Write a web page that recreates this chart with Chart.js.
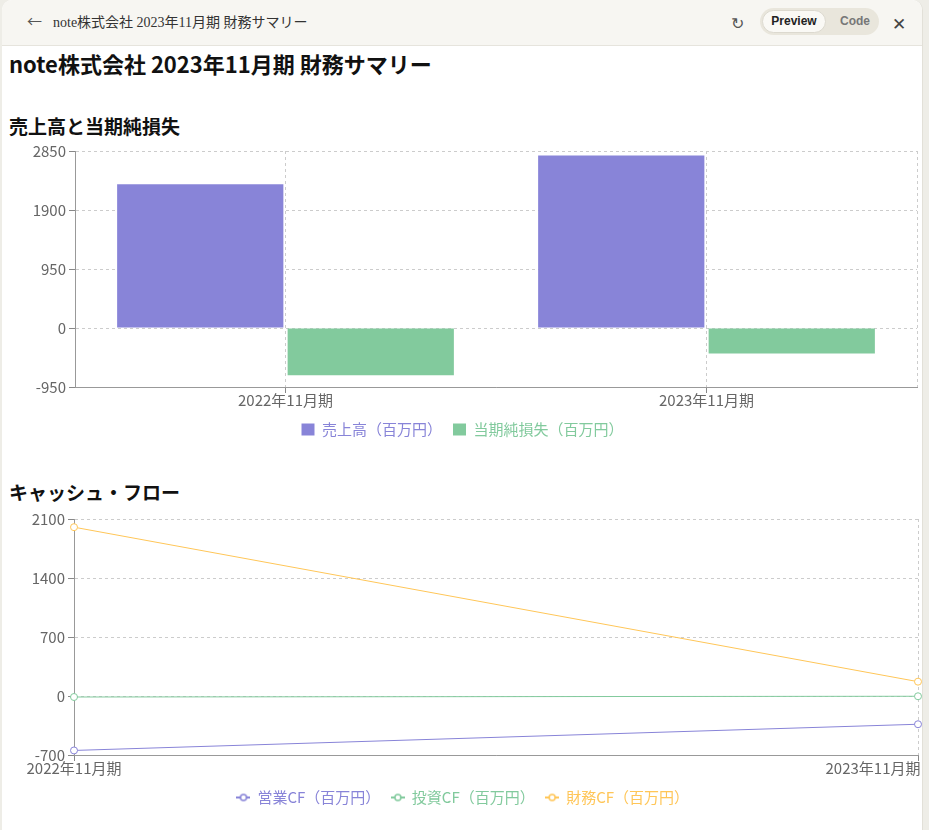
<!DOCTYPE html>
<html lang="ja">
<head>
<meta charset="utf-8">
<title>note株式会社 2023年11月期 財務サマリー</title>
<script src="https://cdn.jsdelivr.net/npm/chart.js@4.4.1/dist/chart.umd.min.js"></script>
<style>
  body { margin: 0; width: 929px; height: 830px; background: #eeede7; font-family: "Noto Sans CJK JP", sans-serif; overflow: hidden; position: relative; }
  .panel { position: absolute; left: 2px; top: 0; width: 920px; height: 830px; background: #fff; border-radius: 10px 10px 0 0; border-right: 1px solid #e2e0d8; }
  .topbar { position: absolute; left: 0; top: 0; width: 920px; height: 45px; background: #f7f6f2; border-bottom: 1px solid #e6e4dd; border-radius: 10px 10px 0 0; }
  .back { position: absolute; left: 25px; top: 10px; font-size: 15px; color: #555; }
  .tab-title { position: absolute; left: 51px; top: 11px; font-size: 14px; color: #333; font-family: "Liberation Serif", "Noto Sans CJK JP", serif; }
  .reload { position: absolute; left: 729px; top: 10px; font-size: 16px; color: #555; }
  .pill { position: absolute; left: 758px; top: 8px; width: 119px; height: 27px; background: #e9e6dc; border-radius: 14px; }
  .pill .on { position: absolute; left: 2px; top: 2px; width: 64px; height: 23px; background: #faf9f5; border-radius: 12px; border: 1px solid #dcd9cf; box-sizing: border-box; font: bold 12px "Liberation Sans", sans-serif; color: #222; text-align: center; line-height: 21px; }
  .pill .off { position: absolute; left: 80px; top: 2px; font: bold 12px "Liberation Sans", sans-serif; color: #777; line-height: 23px; }
  .close { position: absolute; left: 890px; top: 10px; font-size: 17px; color: #444; }
  h1 { position: absolute; left: 9px; top: 50px; margin: 0; font-size: 22px; line-height: 26px; font-weight: bold; color: #111; white-space: nowrap; }
  h2 { position: absolute; left: 9px; margin: 0; font-size: 19px; line-height: 22px; font-weight: bold; color: #111; white-space: nowrap; }
  .chart-box { position: absolute; left: 8px; width: 914px; height: 304px; }
</style>
</head>
<body>
<div class="panel">
  <div class="topbar">
    <span class="back">←</span>
    <span class="tab-title">note株式会社 2023年11月期 財務サマリー</span>
    <span class="reload">↻</span>
    <div class="pill"><div class="on">Preview</div><div class="off">Code</div></div>
    <span class="close">✕</span>
  </div>
</div>

<h1>note株式会社 2023年11月期 財務サマリー</h1>
<h2 style="top:115px">売上高と当期純損失</h2>
<div class="chart-box" style="top:143px"><canvas id="pl-chart"></canvas></div>
<h2 style="top:481px">キャッシュ・フロー</h2>
<div class="chart-box" style="top:511px"><canvas id="cf-chart"></canvas></div>

<script>
// data (百万円)
const periods = ["2022年11月期", "2023年11月期"];
const sales = [2314, 2776];
const netIncome = [-762, -412];
const operatingCF = [-646, -335];
const investingCF = [-12, -3];
const financingCF = [2003, 170];

const plTicks = [-950, 0, 950, 1900, 2850];
const cfTicks = [-700, 0, 700, 1400, 2100];

const PURPLE = "#8884d8";
const GREEN = "#82ca9d";
const ORANGE = "#ffc658";

Chart.defaults.font.family = "'Noto Sans CJK JP', sans-serif";
Chart.defaults.animation = false;

// legend icon like recharts "line" type: short line with a hollow circle
const lineIcon = function (color) {
  const c = document.createElement("canvas");
  c.width = 14;
  c.height = 10;
  const g = c.getContext("2d");
  g.strokeStyle = color;
  g.lineWidth = 2;
  g.beginPath();
  g.moveTo(0, 5);
  g.lineTo(14, 5);
  g.stroke();
  g.fillStyle = "#fff";
  g.lineWidth = 1.5;
  g.beginPath();
  g.arc(7, 5, 3, 0, Math.PI * 2);
  g.fill();
  g.stroke();
  return c;
};

// dashed line on the right edge of the plot (recharts grid look)
const rightEdge = {
  id: "rightEdge",
  beforeDatasetsDraw: function (chart) {
    const a = chart.chartArea;
    const ctx = chart.ctx;
    ctx.save();
    ctx.strokeStyle = "#ccc";
    ctx.setLineDash([3, 3]);
    ctx.lineWidth = 1;
    ctx.beginPath();
    ctx.moveTo(a.right + 0.5, a.top);
    ctx.lineTo(a.right + 0.5, a.bottom);
    ctx.stroke();
    ctx.restore();
  },
};

const axisStyle = function (ticks, yWidth) {
  return {
    x: {
      grid: { color: "#ccc", offset: false, tickLength: 6, tickColor: "#888", tickBorderDash: [] },
      border: { color: "#999", width: 1, dash: [3, 3] },
      ticks: { color: "#666", font: { size: 15 }, padding: -2, maxRotation: 0, autoSkip: false },
      afterFit: function (scale) {
        scale.height = 24;
        scale.paddingLeft = 0;
        scale.paddingRight = 0;
      },
    },
    y: {
      min: ticks[0],
      max: ticks[ticks.length - 1],
      afterBuildTicks: function (scale) {
        scale.ticks = ticks.map((v) => ({ value: v }));
      },
      grid: { color: "#ccc", tickLength: 6, tickColor: "#888", tickBorderDash: [] },
      border: { color: "#999", width: 1, dash: [3, 3] },
      ticks: { color: "#666", font: { size: 15 }, padding: 3, callback: (v) => String(v) },
      afterFit: function (scale) {
        scale.width = yWidth;
        scale.paddingTop = 0;
        scale.paddingBottom = 0;
      },
    },
  };
};

const legendStyle = function (kind) {
  return {
    position: "bottom",
    labels: {
      font: { size: 15 },
      padding: 11,
      boxWidth: 13,
      boxHeight: 12,
      usePointStyle: kind === "line",
      generateLabels: function (chart) {
        return chart.data.datasets.map((ds, i) => ({
          text: ds.label,
          fillStyle: ds.backgroundColor,
          strokeStyle: ds.borderColor,
          lineWidth: 0,
          fontColor: ds.borderColor,
          pointStyle: kind === "line" ? lineIcon(ds.borderColor) : undefined,
          hidden: false,
          datasetIndex: i,
        }));
      },
    },
  };
};

// 売上高と当期純損失
new Chart(document.getElementById("pl-chart"), {
  type: "bar",
  data: {
    labels: periods,
    datasets: [
      { label: "売上高（百万円）", data: sales, backgroundColor: PURPLE, borderColor: PURPLE },
      { label: "当期純損失（百万円）", data: netIncome, backgroundColor: GREEN, borderColor: GREEN },
    ],
  },
  options: {
    responsive: true,
    maintainAspectRatio: false,
    layout: { autoPadding: false, padding: { top: 8, right: 5, left: 0, bottom: 0 } },
    categoryPercentage: 0.81,
    barPercentage: 0.975,
    scales: axisStyle(plTicks, 67),
    plugins: { legend: legendStyle("bar"), tooltip: { enabled: false } },
  },
  plugins: [rightEdge],
});

// キャッシュ・フロー
const cfScales = axisStyle(cfTicks, 66);
cfScales.x.ticks.callback = function (val, i, ticks) {
  const label = this.getLabelForValue(val);
  // last label sits flush against the right edge
  return i === ticks.length - 1 ? label + "\u3000".repeat(6) : label;
};

new Chart(document.getElementById("cf-chart"), {
  type: "line",
  data: {
    labels: periods,
    datasets: [
      { label: "営業CF（百万円）", data: operatingCF, borderColor: PURPLE, backgroundColor: "#fff" },
      { label: "投資CF（百万円）", data: investingCF, borderColor: GREEN, backgroundColor: "#fff" },
      { label: "財務CF（百万円）", data: financingCF, borderColor: ORANGE, backgroundColor: "#fff" },
    ],
  },
  options: {
    responsive: true,
    maintainAspectRatio: false,
    layout: { autoPadding: false, padding: { top: 8, right: 4, left: 0, bottom: 0 } },
    elements: {
      line: { borderWidth: 1, tension: 0 },
      point: { radius: 3.5, borderWidth: 1, backgroundColor: "#fff" },
    },
    scales: cfScales,
    plugins: { legend: legendStyle("line"), tooltip: { enabled: false } },
  },
});
</script>
</body>
</html>
